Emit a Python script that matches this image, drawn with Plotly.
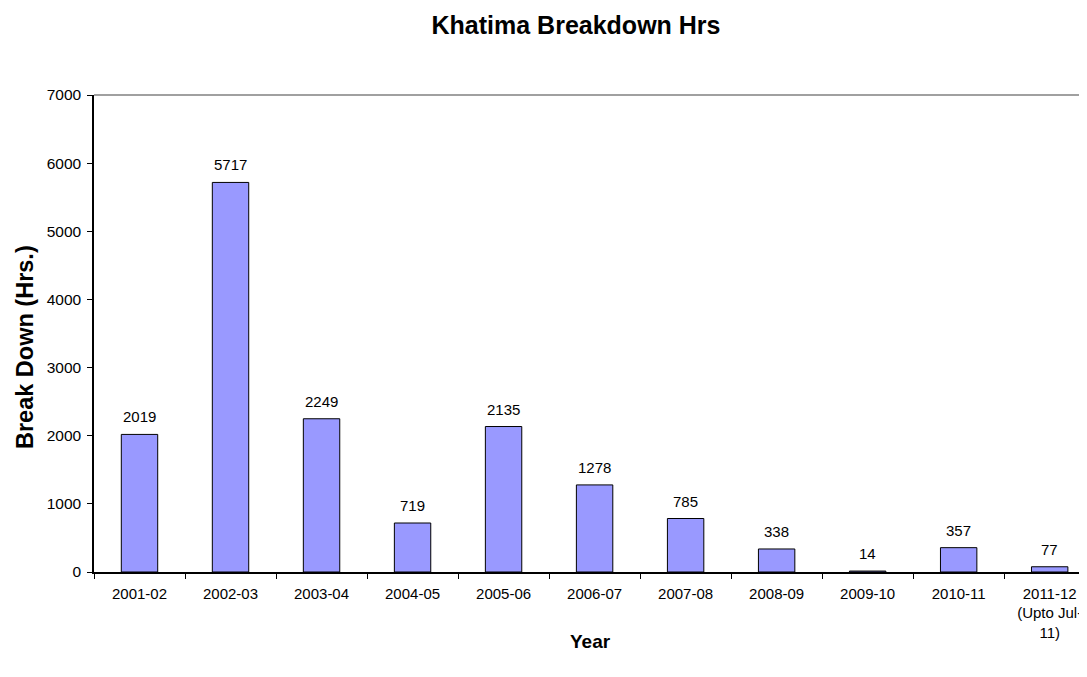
import plotly.graph_objects as go

categories = ["2001-02", "2002-03", "2003-04", "2004-05", "2005-06", "2006-07",
              "2007-08", "2008-09", "2009-10", "2010-11", "2011-12<br>(Upto Jul-<br>11)"]
breakdown_hrs = [2019, 5717, 2249, 719, 2135, 1278, 785, 338, 14, 357, 77]
y_ticks = [0, 1000, 2000, 3000, 4000, 5000, 6000, 7000]

OFF = 8  # page body margin
W, H = 1087 - OFF, 677 - OFF
L, R, T, B = 94 - OFF, 0, 95 - OFF, 105

fig = go.Figure()
fig.add_trace(go.Bar(
    x=categories, y=breakdown_hrs, width=0.4,
    marker=dict(color="#9999FF", line=dict(color="black", width=1)),
    hoverinfo="x+y",
))

annotations = []
for c, v in zip(categories, breakdown_hrs):
    annotations.append(dict(x=c, y=v, xref="x", yref="y", text=str(v), showarrow=False,
                            yanchor="bottom", yshift=7,
                            font=dict(family="Arial, Liberation Sans", size=15, color="black")))

pw = W - L - R
ph = H - T - B
annotations.append(dict(text="<b>Break Down (Hrs.)</b>", textangle=-90, showarrow=False,
                        xref="paper", yref="paper", x=(25 - 94) / pw, y=(572 - 347) / ph,
                        xanchor="center", yanchor="middle",
                        font=dict(family="Arial, Liberation Sans", size=23.5, color="black")))
annotations.append(dict(text="<b>Year</b>", showarrow=False,
                        xref="paper", yref="paper", x=(590 - 94) / pw, y=(572 - 641) / ph,
                        xanchor="center", yanchor="middle",
                        font=dict(family="Arial, Liberation Sans", size=19, color="black")))

fig.update_layout(
    width=W, height=H,
    margin=dict(l=L, r=R, t=T, b=B),
    paper_bgcolor="white", plot_bgcolor="white",
    showlegend=False,
    title=dict(text="<b>Khatima Breakdown Hrs</b>", x=(576 - OFF) / W, xanchor="center",
               y=1 - (25 - OFF) / H, yanchor="middle", yref="container",
               font=dict(family="Arial, Liberation Sans", size=25, color="black")),
    font=dict(family="Arial, Liberation Sans", size=15, color="black"),
    annotations=annotations,
    shapes=[dict(type="line", xref="paper", yref="paper", x0=0, x1=1, y0=1, y1=1,
                 line=dict(color="#808080", width=1.5))],
    xaxis=dict(type="category", range=[-0.5, 10.41], tickson="boundaries",
               ticks="outside", ticklen=5, tickcolor="black", showline=True,
               linecolor="black", linewidth=1.5, showgrid=False,
               tickfont=dict(size=15), tickangle=0, ticklabelstandoff=7),
    yaxis=dict(range=[0, 7000], tickvals=y_ticks, ticks="outside", ticklen=5,
               tickcolor="black", showline=True, linecolor="black", linewidth=1.5,
               showgrid=False, zeroline=False, tickfont=dict(size=15.5),
               ticklabelstandoff=3),
)

fig.write_html("out.html")
